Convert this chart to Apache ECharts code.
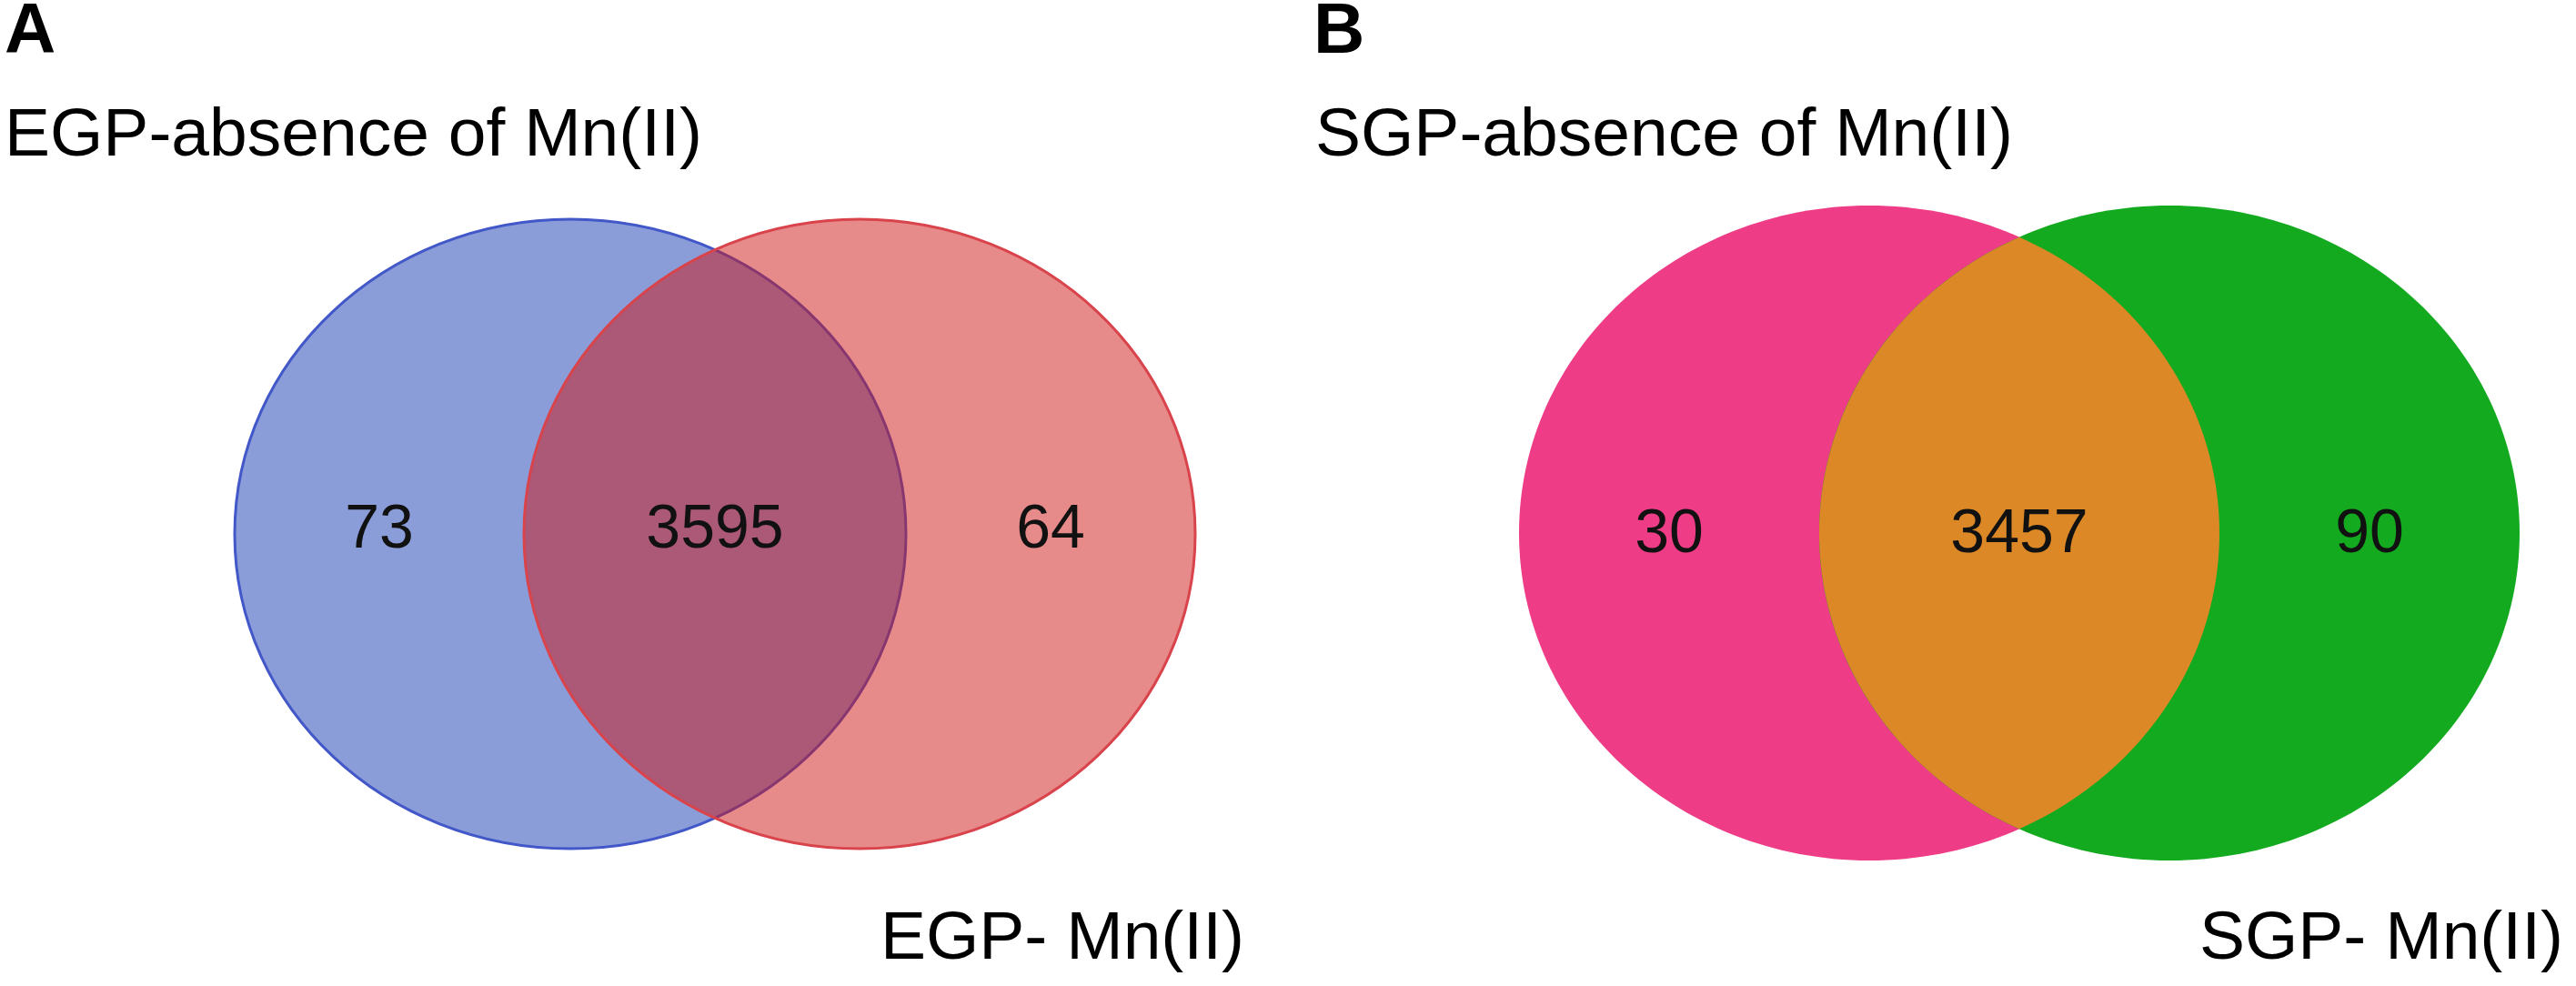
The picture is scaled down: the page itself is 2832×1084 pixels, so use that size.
<!DOCTYPE html>
<html>
<head>
<meta charset="utf-8">
<script src="https://cdn.jsdelivr.net/npm/echarts@6/dist/echarts.min.js"></script>
<style>
html,body{margin:0;padding:0;background:#fff;}
#chart{width:2832px;height:1084px;}
</style>
</head>
<body>
<div id="chart"></div>
<script>
// ---- data ----
const panelLetters = ['A', 'B'];
const firstSetNames = ['EGP-absence of Mn(II)', 'SGP-absence of Mn(II)'];
const secondSetNames = ['EGP- Mn(II)', 'SGP- Mn(II)'];
const onlyFirst = [73, 30];
const shared = [3595, 3457];
const onlySecond = [64, 90];

// ---- layout (chart units) ----
const layout = [
  { c1: [627, 587], c2: [945, 587], rx: 369, ry: 346,
    letterPos: [5, 36], topPos: [5, 150], bottomPos: [1368, 1033], numY: 583,
    style: 'alpha' },
  { c1: [2055, 586], c2: [2385, 586], rx: 385, ry: 360,
    letterPos: [1444, 36], topPos: [1446, 150], bottomPos: [2818, 1033], numY: 588,
    style: 'solid' }
];
const colors = {
  alpha: { f1: '#8b9dd8', s1: '#4257c8', f2: 'rgba(205,22,22,0.5)', s2: '#d9434b' },
  solid: { f1: '#ee3c86', f2: '#14aa20', lens: '#dc8826' }
};
const FONT = '"Liberation Sans", Arial, Helvetica, sans-serif';

function lensPoints(c1, c2, rx, ry) {
  // boundary of intersection of two equal ellipses, built from their equations
  const dx = (c2[0] - c1[0]) / 2;
  const t0 = Math.acos(dx / rx);
  const pts = [];
  const N = 90;
  for (let k = 0; k <= N; k++) {
    const t = -t0 + (2 * t0) * k / N;
    pts.push([c1[0] + rx * Math.cos(t), c1[1] + ry * Math.sin(t)]);
  }
  for (let k = 0; k <= N; k++) {
    const t = Math.PI - t0 + (2 * t0) * k / N;
    pts.push([c2[0] + rx * Math.cos(t), c2[1] - ry * Math.sin(t)]);
  }
  return pts;
}

function renderItem(params, api) {
  const i = api.value(0);
  const g = layout[i];
  const c1 = api.coord(g.c1);
  const c2 = api.coord(g.c2);
  const sz = api.size([g.rx, g.ry]);
  const rx = Math.abs(sz[0]), ry = Math.abs(sz[1]);
  const children = [];
  if (g.style === 'alpha') {
    const c = colors.alpha;
    children.push({ type: 'ellipse', shape: { cx: c1[0], cy: c1[1], rx: rx, ry: ry },
      style: { fill: c.f1, stroke: c.s1, lineWidth: 3 } });
    children.push({ type: 'ellipse', shape: { cx: c2[0], cy: c2[1], rx: rx, ry: ry },
      style: { fill: c.f2, stroke: c.s2, lineWidth: 3 } });
  } else {
    const c = colors.solid;
    children.push({ type: 'ellipse', shape: { cx: c1[0], cy: c1[1], rx: rx, ry: ry },
      style: { fill: c.f1 } });
    children.push({ type: 'ellipse', shape: { cx: c2[0], cy: c2[1], rx: rx, ry: ry },
      style: { fill: c.f2 } });
    children.push({ type: 'polygon', shape: { points: lensPoints(c1, c2, rx, ry) },
      style: { fill: c.lens } });
  }
  const xL1 = c1[0] - rx, xR1 = c1[0] + rx, xL2 = c2[0] - rx, xR2 = c2[0] + rx;
  const ny = api.coord([0, g.numY])[1];
  const counts = [
    [(xL1 + xL2) / 2, api.value(1)],
    [(xL2 + xR1) / 2, api.value(2)],
    [(xR1 + xR2) / 2, api.value(3)]
  ];
  counts.forEach(function (cn) {
    children.push({ type: 'text', x: cn[0], y: ny,
      style: { text: String(cn[1]), fill: '#111', fontSize: 68, fontFamily: FONT,
        align: 'center', verticalAlign: 'middle' } });
  });
  const lp = api.coord(g.letterPos), tp = api.coord(g.topPos), bp = api.coord(g.bottomPos);
  children.push({ type: 'text', x: lp[0], y: lp[1],
    style: { text: panelLetters[i], fill: '#000', fontSize: 78, fontWeight: 'bold', fontFamily: FONT,
      align: 'left', verticalAlign: 'middle' } });
  children.push({ type: 'text', x: tp[0], y: tp[1],
    style: { text: firstSetNames[i], fill: '#000', fontSize: 75, fontFamily: FONT,
      align: 'left', verticalAlign: 'middle' } });
  children.push({ type: 'text', x: bp[0], y: bp[1],
    style: { text: secondSetNames[i], fill: '#000', fontSize: 75, fontFamily: FONT,
      align: 'right', verticalAlign: 'middle' } });
  return { type: 'group', children: children };
}

const chart = echarts.init(document.getElementById('chart'));
chart.setOption({
  animation: false,
  backgroundColor: '#ffffff',
  grid: { left: 0, right: 0, top: 0, bottom: 0 },
  xAxis: { type: 'value', min: 0, max: 2832, show: false },
  yAxis: { type: 'value', min: 0, max: 1084, inverse: true, show: false },
  series: [{
    type: 'custom',
    coordinateSystem: 'cartesian2d',
    renderItem: renderItem,
    data: panelLetters.map(function (p, i) { return [i, onlyFirst[i], shared[i], onlySecond[i]]; }),
    silent: true,
    clip: false
  }]
});
</script>
</body>
</html>
